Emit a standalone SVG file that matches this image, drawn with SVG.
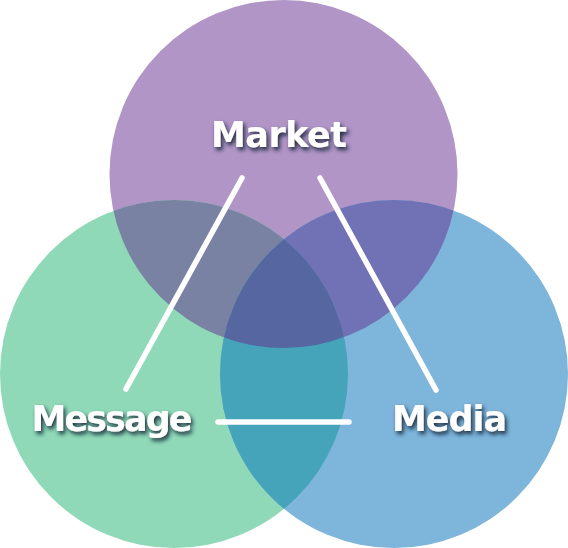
<svg xmlns="http://www.w3.org/2000/svg" width="568" height="548" viewBox="0 0 568 548">
  <style>
    .lbl { font-family: "DejaVu Sans", "Liberation Sans", sans-serif; font-weight: bold; font-size: 35px; fill: #ffffff; text-anchor: middle; filter: url(#shadow); }
    .conn { stroke: #ffffff; stroke-width: 5.5; stroke-linecap: round; fill: none; }
  </style>
  <defs>
    <filter id="shadow" x="-20%" y="-40%" width="140%" height="180%">
      <feDropShadow dx="2" dy="3" stdDeviation="2.2" flood-color="#0f1c30" flood-opacity="0.9"/>
    </filter>
    <clipPath id="clipP"><circle cx="283.5" cy="174" r="174"/></clipPath>
    <clipPath id="clipG"><circle cx="174" cy="374" r="174"/></clipPath>
  </defs>
  <rect width="568" height="548" fill="#ffffff"/>
  <g id="node-market">
    <circle cx="283.5" cy="174" r="174" fill="#B095C6"/>
    <text class="lbl" x="279" y="147" textLength="136" lengthAdjust="spacing">Market</text>
  </g>
  <g id="node-message">
    <circle cx="174" cy="374" r="174" fill="#8FD9B8"/>
    <text class="lbl" x="112" y="431" textLength="161" lengthAdjust="spacing">Message</text>
  </g>
  <g id="node-media">
    <circle cx="394" cy="374" r="174" fill="#7EB5DB"/>
    <text class="lbl" x="449.5" y="431" textLength="115" lengthAdjust="spacing">Media</text>
  </g>
  <g id="overlaps">
    <circle cx="174" cy="374" r="174" fill="#7A82A3" clip-path="url(#clipP)"/>
    <circle cx="394" cy="374" r="174" fill="#7172B6" clip-path="url(#clipP)"/>
    <circle cx="394" cy="374" r="174" fill="#46A4BA" clip-path="url(#clipG)"/>
    <g clip-path="url(#clipG)">
      <circle cx="394" cy="374" r="174" fill="#5566A1" clip-path="url(#clipP)"/>
    </g>
  </g>
  <g id="connectors">
    <line class="conn" x1="242" y1="178" x2="126" y2="389"/>
    <line class="conn" x1="320" y1="178" x2="436" y2="390"/>
    <line class="conn" x1="218" y1="422" x2="349" y2="422"/>
  </g>
</svg>
